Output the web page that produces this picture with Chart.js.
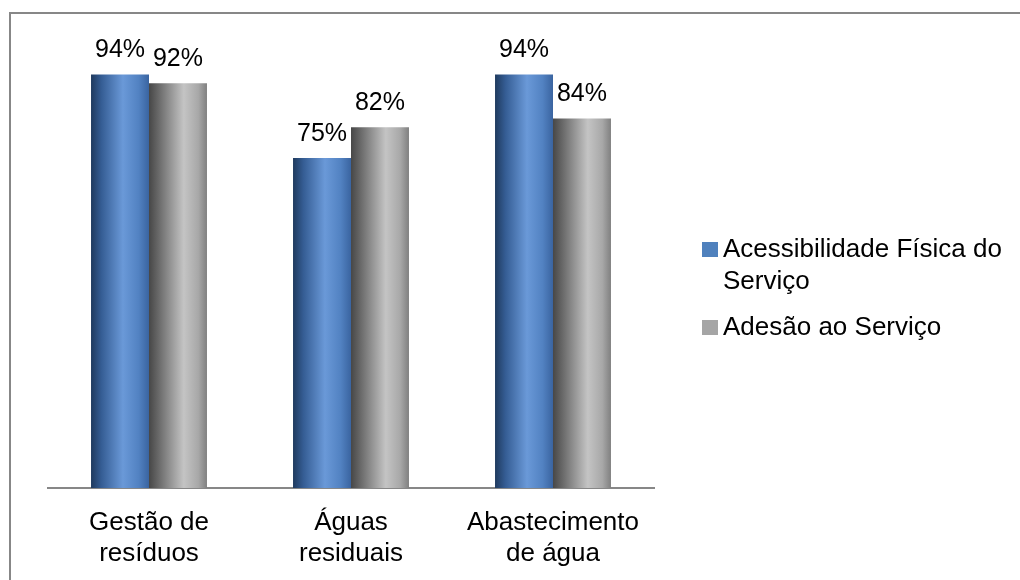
<!DOCTYPE html>
<html>
<head>
<meta charset="utf-8">
<script src="https://cdn.jsdelivr.net/npm/chart.js@4.4.1/dist/chart.umd.min.js"></script>
<style>
  html, body { margin: 0; padding: 0; background: #fff; }
  #wrap { position: relative; width: 1020px; height: 580px; overflow: hidden; }
  #moldura {
    position: absolute; left: 9px; top: 12px; width: 1100px; height: 700px;
    border-left: 2px solid #878787; border-top: 2px solid #878787;
  }
  #grafico { position: absolute; left: 0; top: 0; }
</style>
</head>
<body>
<div id="wrap">
  <div id="moldura"></div>
  <canvas id="grafico" width="1020" height="580"></canvas>
</div>
<script>
const categorias = [['Gestão de', 'resíduos'], ['Águas', 'residuais'], ['Abastecimento', 'de água']]
const series = ['Acessibilidade Física do Serviço', 'Adesão ao Serviço']
const acessibilidade = [94, 75, 94]
const adesao = [92, 82, 84]

const fonte = '"Liberation Sans", Arial, sans-serif'
const coresLegenda = ['#4f81bd', '#a5a5a5']
const CAT_PCT = 0.574

// tons do degradê horizontal de cada barra
const tonsAzul = [[0, '#1f3a5e'], [0.18, '#355d94'], [0.55, '#6a99d8'], [0.82, '#5282c2'], [1, '#3a64a0']]
const tonsCinza = [[0, '#474747'], [0.18, '#6c6c6c'], [0.6, '#c4c4c4'], [0.85, '#a8a8a8'], [1, '#808080']]

function degrade(tons){
    return function(ctx){
        const chart = ctx.chart
        const x = chart.scales.x
        if (!x || ctx.dataIndex === undefined) return tons[2][1]
        const largura = (x.right - x.left) / categorias.length * CAT_PCT / 2
        const centro = x.getPixelForValue(ctx.dataIndex)
        const esq = ctx.datasetIndex === 0 ? centro - largura : centro
        if (!isFinite(esq) || !isFinite(largura) || largura <= 0) return tons[2][1]
        const g = chart.ctx.createLinearGradient(esq, 0, esq + largura, 0)
        tons.forEach(t => g.addColorStop(t[0], t[1]))
        return g
    }
}

// rótulos de valor por cima das barras
const rotulos = {
    id: 'rotulos',
    afterDatasetsDraw(chart){
        const c = chart.ctx
        c.save()
        c.font = '25px ' + fonte
        c.fillStyle = '#000'
        c.textAlign = 'center'
        c.textBaseline = 'alphabetic'
        chart.data.datasets.forEach((ds, i) => {
            chart.getDatasetMeta(i).data.forEach((bar, j) => {
                c.fillText(ds.data[j] + '%', bar.x, bar.y - 17)
            })
        })
        c.restore()
    }
}

// legenda à direita, com quebra de linha
const legenda = {
    id: 'legenda',
    afterDraw(chart){
        const c = chart.ctx
        c.save()
        c.font = '26px ' + fonte
        c.fillStyle = '#000'
        c.textBaseline = 'alphabetic'
        let y = 257
        chart.data.datasets.forEach((ds, i) => {
            const palavras = ds.label.split(' ')
            const linhas = []
            let atual = ''
            palavras.forEach(p => {
                const teste = atual ? atual + ' ' + p : p
                if (c.measureText(teste).width > 292 && atual) { linhas.push(atual); atual = p }
                else atual = teste
            })
            linhas.push(atual)
            c.fillStyle = coresLegenda[i]
            c.fillRect(702, y - 15, 16, 15)
            c.fillStyle = '#000'
            linhas.forEach((l, k) => c.fillText(l, 723, y + k * 32))
            y += linhas.length * 32 + 14
        })
        c.restore()
    }
}

new Chart(document.getElementById('grafico'), {
    type: 'bar',
    data: {
        labels: categorias,
        datasets: [
            { label: series[0], data: acessibilidade, backgroundColor: degrade(tonsAzul) },
            { label: series[1], data: adesao, backgroundColor: degrade(tonsCinza) }
        ]
    },
    options: {
        responsive: false,
        animation: false,
        categoryPercentage: CAT_PCT,
        barPercentage: 1,
        layout: { padding: { left: 48, right: 366, top: 48, bottom: 0 } },
        plugins: { legend: { display: false }, tooltip: { enabled: false } },
        scales: {
            x: {
                grid: { display: false },
                border: { display: true, color: '#878787', width: 2 },
                ticks: { color: '#000', font: { family: fonte, size: 26, lineHeight: 1.2 }, padding: 11, maxRotation: 0 },
                afterFit(scale){ scale.height = 92 }
            },
            y: { display: false, min: 0, max: 100 }
        }
    },
    plugins: [rotulos, legenda]
})
</script>
</body>
</html>
